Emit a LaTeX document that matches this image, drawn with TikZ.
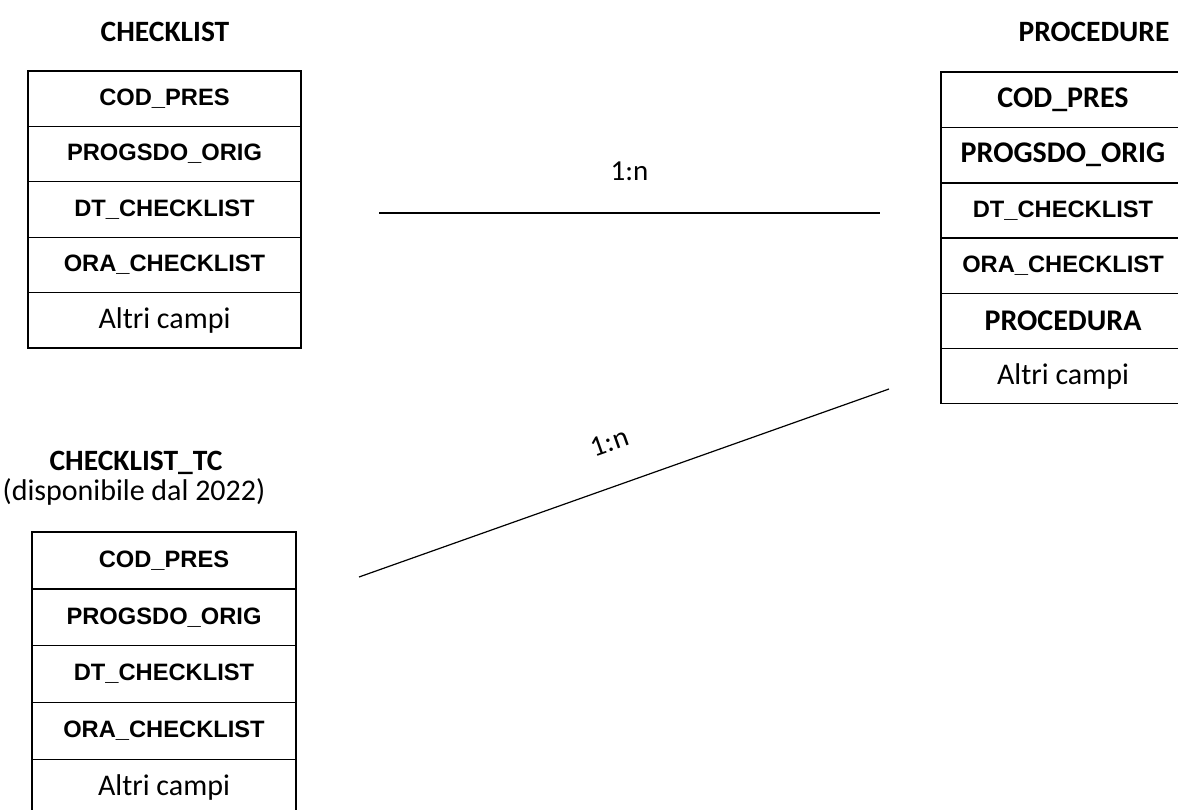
\documentclass[tikz,border=0pt]{standalone}
\usepackage{fontspec}
\setmainfont{Carlito}
\newfontfamily\arialfont{Liberation Sans}
\usetikzlibrary{positioning}

\begin{document}
\begin{tikzpicture}[x=1pt, y=-1pt,
				campo/.style={draw, line width=1.3pt, inner sep=0pt, outer sep=0pt,
					minimum height=55.4pt},
				campoa/.style={campo, font=\arialfont\bfseries\fontsize{23.7}{27}\selectfont},
				campoc/.style={campo, font=\bfseries\fontsize{30}{34}\selectfont},
				altri/.style={campo, font=\fontsize{30}{34}\selectfont},
				titolo/.style={font=\bfseries\fontsize{29.5}{34}\selectfont, align=center},
				card/.style={font=\fontsize{29}{34}\selectfont, inner sep=0pt},
				rel/.style={line width=2pt}
				]
				\clip (0,0) rectangle (1178,809);
				% CHECKLIST
				\node[titolo] (tcheck) at (165,32) {CHECKLIST};
				\node[campoa, minimum width=273pt, anchor=north west] (c1) at (28,71) {COD\_PRES};
				\node[campoa, minimum width=273pt, below=0pt of c1] (c2) {PROGSDO\_ORIG};
				\node[campoa, minimum width=273pt, below=0pt of c2] (c3) {DT\_CHECKLIST};
				\node[campoa, minimum width=273pt, below=0pt of c3] (c4) {ORA\_CHECKLIST};
				\node[altri, minimum width=273pt, below=0pt of c4] (c5) {Altri campi};
				% PROCEDURE
				\node[titolo] (tproc) at (1094,32) {PROCEDURE};
				\node[campoc, minimum width=244pt, minimum height=55.3pt, anchor=north west] (p1) at (941,72) {COD\_PRES};
				\node[campoc, minimum width=244pt, minimum height=55.3pt, below=0pt of p1] (p2) {PROGSDO\_ORIG};
				\node[campoa, minimum width=244pt, minimum height=55.3pt, below=0pt of p2] (p3) {DT\_CHECKLIST};
				\node[campoa, minimum width=244pt, minimum height=55.3pt, below=0pt of p3] (p4) {ORA\_CHECKLIST};
				\node[campoc, minimum width=244pt, minimum height=55.3pt, below=0pt of p4] (p5) {PROCEDURA};
				\node[altri, minimum width=244pt, minimum height=55.3pt, below=0pt of p5] (p6) {Altri campi};
				\draw[line width=1.9pt] (p2.south west) -- (p2.south east);
				\draw[line width=1.9pt] (p5.south west) -- (p5.south east);
				% CHECKLIST_TC
				\node[titolo] (ttc) at (136,463) {CHECKLIST\_TC};
				\node[font=\fontsize{30}{34}\selectfont, inner sep=0pt] (ttcnote) at (134,492) {(disponibile dal 2022)};
				\node[campoa, minimum width=264pt, minimum height=56.8pt, anchor=north west] (k1) at (32,532) {COD\_PRES};
				\node[campoa, minimum width=264pt, minimum height=56.8pt, below=0pt of k1] (k2) {PROGSDO\_ORIG};
				\node[campoa, minimum width=264pt, minimum height=56.8pt, below=0pt of k2] (k3) {DT\_CHECKLIST};
				\node[campoa, minimum width=264pt, minimum height=56.8pt, below=0pt of k3] (k4) {ORA\_CHECKLIST};
				\node[altri, minimum width=264pt, minimum height=56.8pt, below=0pt of k4] (k5) {Altri campi};
				\draw[line width=2.6pt] (k1.south west) -- (k1.south east);
				% relazioni
				\coordinate (r1a) at (379,213);
				\coordinate (r1b) at (880,213);
				\coordinate (r2a) at (359,577);
				\coordinate (r2b) at (889,389);
				\draw[rel] (r1a) -- node[card, above=31pt] {1:n} (r1b);
				\draw[line width=1.2pt] (r2a) -- node[card, sloped, above=33pt] {1:n} (r2b);
			\end{tikzpicture}
\end{document}
